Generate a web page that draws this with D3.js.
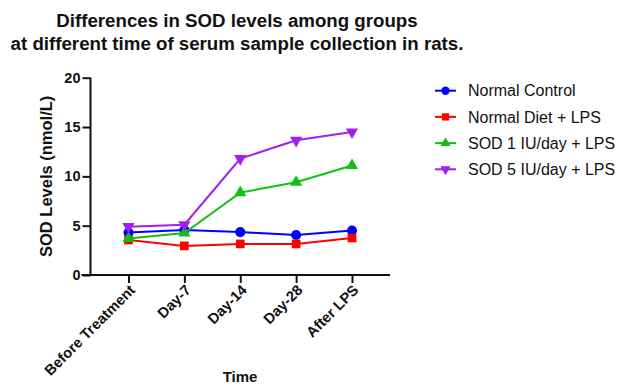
<!DOCTYPE html>
<html>
<head>
<meta charset="utf-8">
<script src="https://cdn.jsdelivr.net/npm/d3@7"></script>
<style>
  html, body { margin: 0; padding: 0; background: #fff; }
  svg { display: block; font-family: "Liberation Sans", Arial, sans-serif; }
</style>
</head>
<body>
<svg id="chart" width="619" height="384"></svg>
<script>
const categories = ["Before Treatment", "Day-7", "Day-14", "Day-28", "After LPS"];
const seriesNames = ["Normal Control", "Normal Diet + LPS", "SOD 1 IU/day + LPS", "SOD 5 IU/day + LPS"];
const normalControl = [4.3, 4.55, 4.35, 4.05, 4.5];
const normalDietLPS = [3.55, 2.95, 3.15, 3.15, 3.75];
const sod1LPS = [3.7, 4.25, 8.35, 9.4, 11.1];
const sod5LPS = [4.9, 5.1, 11.8, 13.65, 14.5];
const yTicks = [0, 5, 10, 15, 20];
const titleLines = ["Differences in SOD levels among groups", "at different time of serum sample collection in rats."];
const yLabel = "SOD Levels (nmol/L)";
const xLabel = "Time";

const series = [
  { name: seriesNames[0], values: normalControl, color: "#0000FF", symbol: d3.symbolCircle, size: 80, rot: 0 },
  { name: seriesNames[1], values: normalDietLPS, color: "#FF0000", symbol: d3.symbolSquare, size: 75, rot: 0 },
  { name: seriesNames[2], values: sod1LPS, color: "#12C012", symbol: d3.symbolTriangle, size: 65, rot: 0 },
  { name: seriesNames[3], values: sod5LPS, color: "#A020F0", symbol: d3.symbolTriangle, size: 65, rot: 180 }
];

const svg = d3.select("#chart");
const x0 = 90.5, x1 = 390, yTop = 77.7, yBot = 275;

const x = d3.scalePoint().domain(categories).range([x0, x1]).padding(0.68);
const y = d3.scaleLinear().domain([0, 20]).range([yBot, yTop]);

// Title
svg.append("g").selectAll("text").data(titleLines).join("text")
  .attr("x", 237).attr("y", (d, i) => 27 + i * 23)
  .attr("text-anchor", "middle")
  .attr("font-size", 18.7).attr("font-weight", "bold").attr("fill", "#111")
  .text(d => d);

// Y axis
const yAxis = svg.append("g").attr("transform", `translate(${x0},0)`)
  .call(d3.axisLeft(y).tickValues(yTicks).tickSize(8).tickPadding(2));
yAxis.select(".domain").attr("stroke", "#111").attr("stroke-width", 2).attr("d", `M-0,${yTop}V${yBot}`);
yAxis.selectAll(".tick line").attr("stroke", "#111").attr("stroke-width", 2);
yAxis.selectAll(".tick text").attr("font-size", 14.5).attr("font-weight", "bold").attr("fill", "#111")
  .attr("font-family", "Liberation Sans, Arial, sans-serif");

// X axis
const xAxis = svg.append("g").attr("transform", `translate(0,${yBot})`)
  .call(d3.axisBottom(x).tickSize(8).tickSizeOuter(0).tickPadding(4));
xAxis.select(".domain").attr("stroke", "#111").attr("stroke-width", 2).attr("d", `M${x0 - 9},0H${x1}`);
xAxis.selectAll(".tick line").attr("stroke", "#111").attr("stroke-width", 2);
xAxis.selectAll(".tick text")
  .attr("font-size", 14.7).attr("font-weight", "bold").attr("fill", "#111")
  .attr("font-family", "Liberation Sans, Arial, sans-serif")
  .attr("text-anchor", "end")
  .attr("dy", null).attr("y", 0)
  .attr("transform", "translate(7,16) rotate(-45)");

// Axis labels
svg.append("text")
  .attr("transform", `translate(52,${(yTop + yBot) / 2}) rotate(-90)`)
  .attr("text-anchor", "middle")
  .attr("font-size", 16.5).attr("font-weight", "bold").attr("fill", "#111")
  .text(yLabel);
svg.append("text")
  .attr("x", 240).attr("y", 382)
  .attr("text-anchor", "middle")
  .attr("font-size", 15).attr("font-weight", "bold").attr("fill", "#111")
  .text(xLabel);

// Lines and markers
const line = d3.line().x((d, i) => x(categories[i])).y(d => y(d));
const gS = svg.append("g");
series.forEach(s => {
  gS.append("path").datum(s.values)
    .attr("d", line).attr("fill", "none")
    .attr("stroke", s.color).attr("stroke-width", 2);
  gS.selectAll(null).data(s.values).join("path")
    .attr("d", d3.symbol().type(s.symbol).size(s.size))
    .attr("transform", (d, i) => `translate(${x(categories[i])},${y(d)}) rotate(${s.rot})`)
    .attr("fill", s.color);
});

// Legend
const lg = svg.append("g");
series.forEach((s, i) => {
  const yy = 90.7 + i * 26.2;
  lg.append("line").attr("x1", 435).attr("x2", 456).attr("y1", yy).attr("y2", yy)
    .attr("stroke", s.color).attr("stroke-width", 2);
  lg.append("path")
    .attr("d", d3.symbol().type(s.symbol).size(s.size * 0.7))
    .attr("transform", `translate(445.5,${yy}) rotate(${s.rot})`)
    .attr("fill", s.color);
  lg.append("text").attr("x", 468).attr("y", yy).attr("dy", "0.35em")
    .attr("font-size", 16).attr("fill", "#111")
    .text(s.name);
});
</script>
</body>
</html>
